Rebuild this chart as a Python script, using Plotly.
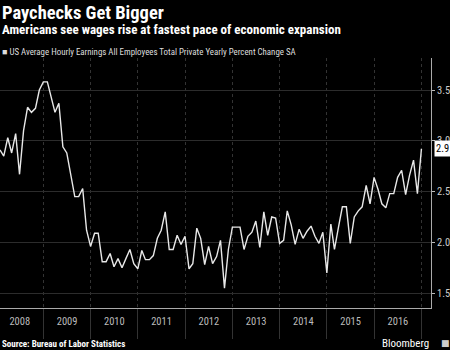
import pandas as pd
import plotly.graph_objects as go

# Monthly data, Jan 2008 - Dec 2016
months = pd.date_range("2008-01-31", "2016-12-31", freq="ME")
values = [
    2.91, 2.85, 3.03, 2.88, 3.07, 2.67, 3.10, 3.33, 3.28, 3.32, 3.50, 3.58,
    3.58, 3.43, 3.28, 3.37, 2.94, 2.88, 2.68, 2.45, 2.45, 2.53, 2.12, 1.96,
    2.09, 2.09, 1.81, 1.81, 1.89, 1.76, 1.84, 1.75, 1.84, 1.93, 1.79, 1.74,
    1.92, 1.83, 1.83, 1.87, 2.04, 2.12, 2.30, 1.93, 1.93, 2.07, 1.98, 2.06,
    1.74, 1.79, 2.14, 2.04, 1.78, 1.96, 1.79, 1.86, 2.02, 1.55, 1.93, 2.15,
    2.15, 2.15, 1.93, 2.06, 2.10, 2.21, 1.95, 2.30, 2.07, 2.25, 2.24, 1.99,
    2.02, 2.31, 2.17, 1.98, 2.13, 2.04, 2.11, 2.16, 2.06, 1.99, 2.10, 1.70,
    2.18, 1.93, 2.15, 2.35, 2.35, 1.99, 2.25, 2.31, 2.35, 2.56, 2.38, 2.64,
    2.52, 2.38, 2.34, 2.48, 2.48, 2.64, 2.71, 2.47, 2.66, 2.81, 2.48, 2.92,
]
y_ticks = [1.5, 2.0, 2.5, 3.0, 3.5]
y_tick_labels = ["1.5", "2.0", "2.5", "3.0", "3.5"]
last_label = "2.9"

title = "Paychecks Get Bigger"
subtitle = "Americans see wages rise at fastest pace of economic expansion"
series_name = "US Average Hourly Earnings All Employees Total Private Yearly Percent Change SA"
source = "Source: Bureau of Labor Statistics"

NARROW = "Liberation Sans Narrow, Arial Narrow, Roboto Condensed, Liberation Sans, sans-serif"

fig = go.Figure()
fig.add_trace(go.Scatter(
    x=months, y=values, mode="lines",
    line=dict(color="#e8e8e8", width=1.4),
    showlegend=False, hoverinfo="skip",
))

fig.update_layout(
    width=450, height=350,
    margin=dict(l=0, r=15, t=58, b=42),
    paper_bgcolor="black", plot_bgcolor="black",
    font=dict(family=NARROW, color="#cccccc", size=10),
    xaxis=dict(
        type="date",
        range=["2008-01-31", "2017-03-15"],
        tick0="2008-01-01", dtick="M12", tickformat="%Y",
        ticklabelmode="period",
        showgrid=True, gridcolor="#333333", griddash="dot", gridwidth=1,
        ticks="outside", ticklen=30, tickcolor="#333333", tickwidth=1,
        ticklabelstandoff=-27,
        tickfont=dict(family=NARROW, size=10.5, color="#bbbbbb"),
        showline=True, linecolor="#aaaaaa", linewidth=1,
        zeroline=False, fixedrange=True,
    ),
    yaxis=dict(
        side="right",
        range=[1.354, 3.815],
        tickvals=y_ticks, ticktext=y_tick_labels,
        showgrid=True, gridcolor="#2c2c2c", gridwidth=1,
        ticks="outside", ticklen=3, tickcolor="#bbbbbb",
        tickfont=dict(family=NARROW, size=10.5, color="#cccccc"),
        showline=True, linecolor="#aaaaaa", linewidth=1,
        zeroline=False, fixedrange=True,
    ),
    annotations=[
        dict(text="<b>" + title + "</b>", x=0, y=350 - 13, xref="paper", yref="paper",
             showarrow=False, xanchor="left", yanchor="middle",
             font=dict(family=NARROW, size=18.5, color="white")),
        dict(text="<b>" + subtitle + "</b>", x=0, y=350 - 30, xref="paper", yref="paper",
             showarrow=False, xanchor="left", yanchor="middle",
             font=dict(family=NARROW, size=13, color="white")),
        dict(text="■ " + series_name, x=0, y=350 - 52, xref="paper", yref="paper",
             showarrow=False, xanchor="left", yanchor="middle",
             font=dict(family=NARROW, size=8.9, color="#dddddd")),
        dict(text="<b>" + source + "</b>", x=0, y=350 - 344, xref="paper", yref="paper",
             showarrow=False, xanchor="left", yanchor="middle",
             font=dict(family=NARROW, size=9, color="white")),
        dict(text="Bloomberg", x=1, y=350 - 343, xref="paper", yref="paper",
             showarrow=False, xanchor="right", yanchor="middle", xshift=0,
             font=dict(family=NARROW, size=11, color="white")),
        dict(text="■", x=1, y=350 - 343, xref="paper", yref="paper",
             showarrow=False, xanchor="left", yanchor="middle", xshift=8,
             font=dict(family="DejaVu Sans", size=9, color="#cccccc")),
        dict(text=last_label, x=1, y=values[-1], xref="paper", yref="y",
             showarrow=False, xanchor="left", yanchor="middle", xshift=3,
             bgcolor="white", borderpad=1,
             font=dict(family=NARROW, size=10.5, color="black")),
    ],
)

# convert pixel-based annotation y positions (from bottom) into paper coordinates
plot_h = 350 - 58 - 42
for a in fig.layout.annotations:
    if a.yref == "paper":
        a.y = (a.y - 42) / plot_h

fig.write_html("out.html")
